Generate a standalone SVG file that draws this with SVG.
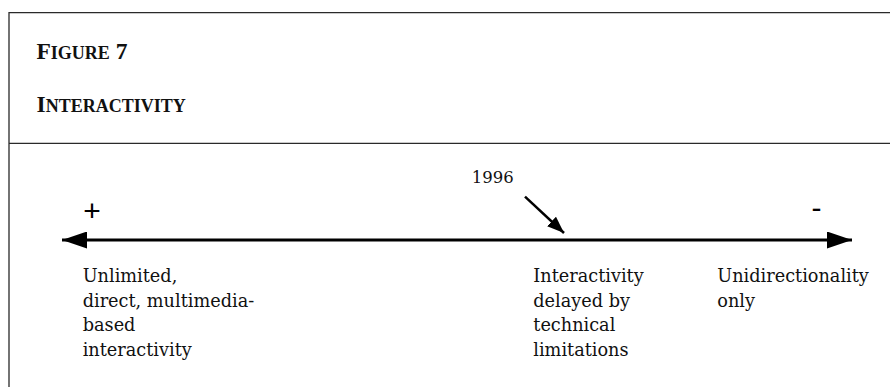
<svg xmlns="http://www.w3.org/2000/svg" width="890" height="387" viewBox="0 0 890 387">
<defs>
<style>
.frame{fill:none;stroke:#2a2a2a;stroke-width:1.3}
.ttl{font-family:"Liberation Serif",serif;font-weight:bold;fill:#111}
.big{font-size:23.5px}
.sm{font-size:18px}
.lbl{font-family:"DejaVu Serif","Liberation Serif",serif;font-size:17.7px;fill:#111}
.sym{font-family:"Liberation Sans",sans-serif;font-size:30px;fill:#000}
.axis{stroke:#000;stroke-width:3;fill:none}
.ptr{stroke:#000;stroke-width:2.5;fill:none}
</style>
<marker id="ah" viewBox="0 0 25 17" refX="25" refY="8.5" markerWidth="25" markerHeight="17" markerUnits="userSpaceOnUse" orient="auto-start-reverse">
<path d="M0,0 L25,8.5 L0,17 Z" fill="#000"/>
</marker>
<marker id="ah2" viewBox="0 0 17 13" refX="17" refY="6.5" markerWidth="17" markerHeight="13" markerUnits="userSpaceOnUse" orient="auto">
<path d="M0,0 L17,6.5 L0,13 Z" fill="#000"/>
</marker>
</defs>
<g id="frame">
<path class="frame" d="M891,12.7 H9 V388"/>
<line class="frame" x1="9" y1="143.3" x2="891" y2="143.3"/>
</g>
<g id="title">
<text class="ttl" x="36.5" y="59.3"><tspan class="big">F</tspan><tspan class="sm">IGURE</tspan><tspan class="big"> 7</tspan></text>
<text class="ttl" x="36.5" y="111.7"><tspan class="big">I</tspan><tspan class="sm">NTERACTIVITY</tspan></text>
</g>
<g id="connectors">
<line class="axis" x1="62" y1="240" x2="852" y2="240" marker-start="url(#ah)" marker-end="url(#ah)"/>
<line class="ptr" x1="525" y1="196.7" x2="564" y2="233" marker-end="url(#ah2)"/>
</g>
<g id="plus"><text class="sym" x="92" y="220.5" text-anchor="middle">+</text></g>
<g id="minus"><text class="sym" x="816.4" y="218" text-anchor="middle">-</text></g>
<g id="year"><text class="lbl" x="471.7" y="182.7" style="font-size:16.5px">1996</text></g>
<g id="left-label">
<text class="lbl" x="82.7" y="282"><tspan x="82.7">Unlimited,</tspan><tspan x="82.7" dy="24.5">direct, multimedia-</tspan><tspan x="82.7" dy="24.5">based</tspan><tspan x="82.7" dy="24.5">interactivity</tspan></text>
</g>
<g id="mid-label">
<text class="lbl" x="533.3" y="282"><tspan x="533.3">Interactivity</tspan><tspan x="533.3" dy="24.5">delayed by</tspan><tspan x="533.3" dy="24.5">technical</tspan><tspan x="533.3" dy="24.5">limitations</tspan></text>
</g>
<g id="right-label">
<text class="lbl" x="717.3" y="282"><tspan x="717.3">Unidirectionality</tspan><tspan x="717.3" dy="24.5">only</tspan></text>
</g>
</svg>
